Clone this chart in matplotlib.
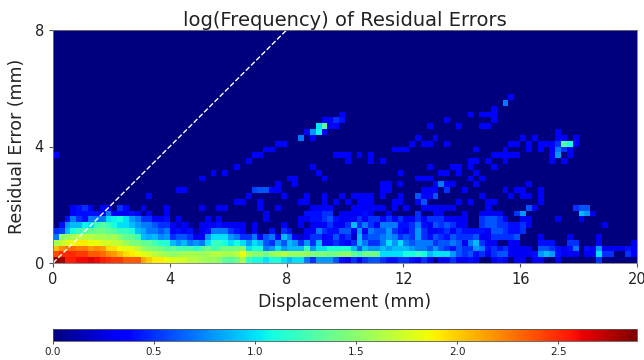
import numpy as np
import matplotlib
matplotlib.use("Agg")
import matplotlib.pyplot as plt

# bins are 0.2 mm wide and 0.2 mm high
x_ticks = [0, 4, 8, 12, 16, 20]
y_ticks = [0, 4, 8]
cbar_ticks = [0.0, 0.5, 1.0, 1.5, 2.0, 2.5]
vmax = 2.89

# lowest rows, one value per displacement bin
row0 = [2.85, 2.8, 2.55, 2.55, 2.6, 2.6, 2.65, 2.6, 2.55, 2.5, 2.45, 2.45, 2.35, 2.35, 2.35, 2.1, 2.0, 1.9, 1.9, 1.85,
        1.8, 1.75, 1.75, 1.65, 1.65, 1.6, 1.55, 1.55, 1.5, 1.35, 1.3, 1.4, 1.6, 1.2, 1.1, 1.1, 1.0, 1.1, 1.1, 1.0,
        0.9, 1.0, 1.0, 0.7, 0.5, 0.8, 0.8, 0.8, 0.6, 0.4, 0.3, 0.5, 0.3, 0.5, 0.6, 0.6, 0.5, 0.4, 0.4, 0.5,
        0.5, 0.4, 0.3, 0.5, 0.3, 0, 0.3, 0.3, 0.5, 0.3, 0.3, 0.4, 0.3, 0, 0, 0.3, 0.4, 0.3, 0, 0.3,
        0.3, 0, 0.3, 0.3, 0, 0, 0.3, 0, 0, 0, 0, 0, 0, 0.5, 0, 0, 0, 0, 0, 0]
row1 = [2.4, 2.5, 2.5, 2.5, 2.45, 2.45, 2.35, 2.35, 2.3, 2.2, 2.15, 2.05, 1.95, 1.9, 1.85, 1.8, 1.75, 1.65, 1.6, 1.55,
        1.5, 1.55, 1.6, 1.6, 1.6, 1.55, 1.6, 1.65, 1.65, 1.6, 1.6, 1.65, 1.85, 1.6, 1.5, 1.5, 1.4, 1.55, 1.6, 1.65,
        1.55, 1.55, 1.55, 1.55, 1.45, 1.45, 1.45, 1.4, 1.45, 1.5, 1.5, 1.35, 1.25, 1.4, 1.4, 1.4, 1.0, 1.0, 1.0, 1.0,
        1.1, 1.1, 1.2, 1.1, 0.9, 1.0, 1.0, 1.0, 0.8, 0.6, 0.5, 0.6, 0.4, 0.5, 0.3, 0.5, 0.6, 0.6, 0.3, 0.3,
        0.3, 0.3, 0.4, 0.8, 0.9, 0.8, 0.4, 0.3, 0.3, 0.3, 0, 0.3, 0.3, 1.0, 0.5, 0.5, 0, 0, 0.5, 0.3]
row2 = [2.05, 2.2, 2.3, 2.3, 2.25, 2.25, 2.15, 2.2, 2.15, 1.95, 1.95, 1.85, 1.8, 1.8, 1.65, 1.55, 1.45, 1.45, 1.4, 1.3,
        1.35, 1.25, 1.25, 1.25, 1.15, 1.3, 1.4, 1.2, 1.3, 1.4, 1.4, 1.4, 1.5, 1.0, 1.1, 1.1, 0.7, 0.8, 1.0, 0.8,
        0.9, 0.9, 0.9, 1.2, 0.8, 1.0, 1.0, 1.1, 1.1, 1.1, 1.1, 0.9, 0.6, 0.9, 0.8, 0.8, 0.9, 0.8, 0.9, 0.9,
        0.9, 0.8, 0.7, 0.7, 0.6, 0.8, 0.6, 0.5, 0.4, 0.6, 0.5, 0.5, 0.8, 0.7, 0.4, 0.5, 0.4, 0.5, 0.3, 0.3,
        0.3, 0.3, 0, 0.6, 0.6, 0.5, 0.4, 0.3, 0.4, 0.7, 0, 0.4, 0.3, 0.8, 0.3, 0.3, 0.3, 0.3, 0.4, 0.3]
row3 = [1.6, 1.7, 1.8, 1.85, 1.9, 1.9, 1.85, 1.85, 1.75, 1.75, 1.7, 1.65, 1.55, 1.45, 1.45, 1.35, 1.35, 1.25, 1.15, 1.15,
        0.9, 0.8, 0.9, 0.7, 0.8, 0.7, 1.0, 1.2, 1.2, 1.1, 1.0, 1.1, 1.0, 0.8, 1.0, 0.9, 0.6, 0.5, 0.8, 0.6,
        0.9, 0.8, 0.5, 0.8, 0.5, 0.9, 0.4, 0.4, 0.5, 0.4, 0.3, 0.5, 0.9, 0.7, 0.5, 0.5, 0.7, 1.0, 0.8, 1.0,
        0.7, 0.6, 0.7, 0.7, 0.7, 0.5, 0.6, 0.6, 0.7, 0.6, 0.3, 0.7, 0.9, 0.5, 0.3, 0.3, 0, 0, 0.3, 0.3,
        0, 0, 0, 0.4, 0.4, 0.4, 0, 0, 0.5, 0.5, 0, 0, 0, 0.3, 0, 0, 0, 0, 0, 0.3]
row4 = [0.7, 1.5, 1.55, 1.6, 1.65, 1.65, 1.65, 1.6, 1.6, 1.55, 1.6, 1.45, 1.35, 1.35, 1.2, 0.9, 0.85, 0.9, 0.75, 0.8,
        0.5, 0.6, 0.6, 0.5, 0.3, 0.3, 0.8, 1.0, 1.0, 1.0, 0.8, 0.7, 0.5, 0.5, 0.7, 0.3, 0.6, 0.7, 0.3, 0.9,
        0.7, 0.3, 0.2, 0.3, 0.5, 0.5, 0.3, 0.4, 0.6, 0.4, 0.5, 0.2, 0.9, 0.5, 0.6, 0.6, 0.7, 0.8, 0.7, 0.5,
        0.6, 0.5, 0.8, 0.5, 0.4, 0.6, 0.5, 0.4, 0.6, 0.5, 0.5, 0.5, 0.6, 0.3, 0.3, 0.5, 0.5, 0.5, 0.5, 0.6,
        0, 0, 0, 0.3, 0, 0, 0, 0, 0.3, 0, 0, 0, 0, 0.3, 0, 0, 0, 0, 0, 0]
row5 = [0.5, 0.55, 0.9, 1.1, 1.2, 1.3, 1.35, 1.4, 1.4, 1.35, 1.3, 1.2, 1.2, 1.1, 0.9, 0.85, 0.7, 0.7, 0.6, 0.7,
        0.3, 0.4, 0.3, 0.4, 0.1, 0.3, 0.4, 0.7, 0.7, 0.7, 0.5, 0.4, 0.3, 0, 0.3, 0, 0, 0.4, 0, 0.5,
        0.4, 0, 0, 0.3, 0.3, 0.7, 0.5, 0.4, 0.4, 0.6, 0.6, 0.3, 0.8, 0.3, 0.7, 0.6, 0.6, 0.8, 0.5, 0.4,
        0.3, 0.5, 0.8, 0.5, 0.3, 0.3, 0.4, 0.5, 0.3, 0.5, 0.4, 0.4, 0.4, 0.4, 0.3, 0.6, 0.6, 0.5, 0.4, 0.4,
        0.5, 0, 0, 0, 0, 0, 0, 0, 0, 0, 0, 0, 0, 0, 0, 0, 0, 0, 0, 0]
row6 = [0, 0.4, 0.8, 0.9, 0.9, 1.05, 1.0, 1.2, 1.3, 1.2, 1.1, 1.0, 1.0, 0.9, 0.8, 0.7, 0.7, 0.6, 0.5, 0.5,
        0.3, 0.2, 0.35, 0.1, 0, 0.3, 0.3, 0.3, 0.4, 0.3, 0.3, 0.3, 0.3, 0, 0.3, 0, 0, 0, 0, 0.3,
        0, 0, 0.3, 0, 0.3, 0.3, 0.3, 0.5, 0.3, 0.3, 0.5, 0.9, 0.5, 0.7, 0.5, 0.3, 0.7, 0.7, 0.7, 0.4,
        0.4, 0.5, 0.7, 0.4, 0.3, 0.6, 0.5, 0.6, 0.5, 0.3, 0.3, 0, 0, 0.5, 0.6, 0.6, 0.5, 0.5, 0.4, 0.4,
        0.5, 0.3, 0, 0, 0, 0, 0, 0, 0, 0, 0, 0, 0, 0, 0.3, 0, 0, 0, 0, 0]
row7 = [0, 0, 0.4, 0.7, 0.5, 0.4, 0.7, 0.7, 0.7, 1.0, 1.05, 1.1, 1.0, 0.8, 0.7, 0.5, 0.5, 0.3, 0.3, 0.4,
        0, 0.3, 0, 0, 0, 0, 0.3, 0, 0.3, 0, 0, 0, 0, 0, 0, 0, 0.3, 0, 0, 0,
        0, 0, 0.3, 0.3, 0.4, 0.4, 0.5, 0.6, 0.4, 0.3, 0.3, 0.3, 0.5, 0.3, 0.5, 0.5, 0.3, 0.5, 0.3, 0.5,
        0.3, 0.3, 0.5, 0.3, 0.5, 0.5, 0.5, 0.3, 0.3, 0.3, 0.3, 0, 0, 0.5, 0.6, 0.6, 0.5, 0.3, 0, 0,
        0.3, 0.3, 0, 0, 0, 0, 0.3, 0, 0, 0, 0.3, 0, 0, 0, 0, 0, 0, 0, 0, 0]
row8 = [0, 0, 0, 0.3, 0.4, 0.4, 0.4, 0.4, 0.3, 0.7, 0.3, 0.3, 0.3, 0.4, 0.3, 0, 0.3, 0, 0, 0.3,
        0, 0, 0, 0, 0, 0, 0, 0, 0, 0, 0, 0, 0, 0, 0, 0, 0.3, 0, 0, 0,
        0, 0, 0, 0.4, 0.4, 0.4, 0.5, 0.5, 0, 0.3, 0.3, 0.3, 0.3, 0.4, 0.3, 0, 0, 0.3, 0, 0,
        0, 0, 0.5, 0, 0, 0.3, 0.3, 0, 0, 0, 0.3, 0, 0, 0.3, 0.3, 0.3, 0.3, 0, 0, 0.5,
        0.8, 0, 0, 0, 0, 0, 0, 0, 0, 0, 0.9, 0.8, 0.3, 0, 0, 0, 0, 0, 0, 0]
row9 = [0, 0, 0, 0.3, 0.4, 0.5, 0.3, 0, 0.3, 0, 0, 0.5, 0.3, 0, 0, 0.3, 0, 0, 0, 0,
        0, 0, 0, 0, 0, 0.3, 0, 0, 0.3, 0.3, 0, 0, 0, 0, 0, 0.3, 0, 0, 0.3, 0,
        0, 0, 0, 0, 0.3, 0.3, 0, 0, 0, 0, 0, 0.3, 0.3, 0.3, 0.3, 0, 0.3, 0, 0.3, 0,
        0, 0, 0, 0, 0.3, 0.3, 0.3, 0.3, 0.3, 0, 0, 0, 0, 0, 0, 0, 0, 0, 0, 0,
        0, 0.6, 0.3, 0, 0, 0, 0, 0, 0, 0.5, 0.6, 0.6, 0, 0, 0, 0, 0, 0, 0, 0]

# higher up only a few bins are filled, these are the faint ones
faint9 = [4, 5, 9, 12, 19, 35, 46, 47, 51, 52, 55, 56, 58, 60, 63, 64, 65, 74]
faint10 = [31, 32, 35, 42, 43, 46, 48, 50, 52, 53, 54, 58, 59, 62, 69, 71, 74, 75, 83]
faint11 = [16, 33, 39, 43, 46, 49, 51, 52, 53, 54, 56, 59, 63, 64, 73, 78, 80, 81, 83]
faint12 = [21, 22, 36, 37, 38, 56, 57, 63, 64, 65, 70, 77, 79, 80, 83]
faint13 = [38, 41, 56, 57, 59, 65, 67, 68, 72, 81]
faint14 = [25, 40, 41, 46, 62, 63, 64, 71, 73]
faint15 = [27, 29, 45, 59, 66, 67, 69, 72]
faint16 = [31, 44, 64, 68, 69, 71, 75]
faint17 = [33, 50, 54, 56, 71, 72, 74, 77, 85, 87]
faint18 = [0, 34, 35, 48, 49, 50, 52, 54, 75, 76, 77, 78, 79, 85, 88]
faint19 = [36, 37, 58, 59, 60, 72, 77, 81, 83, 85, 88]
faint20 = [38, 39, 61, 63, 64, 67, 78, 79, 81, 83, 84, 85, 86, 89]
faint21 = [44, 62, 65, 80, 82, 86, 87, 89]
faint22 = [43, 46, 86]
faint23 = [47, 48, 64, 69, 73, 74]
faint24 = [46, 47, 49, 67, 75]
faint25 = [49, 71, 73, 74, 75]
faint26 = [75]
faint28 = [78]
faint_value = 0.32

# brighter spots in the upper part
spot_bin = [36, 34, 35, 45, 46, 44, 45, 42, 62, 63, 65, 66, 67, 86, 87, 88, 86, 87, 86, 77, 48, 49]
spot_row = [12, 12, 12, 23, 23, 22, 22, 21, 11, 10, 11, 13, 12, 20, 20, 20, 19, 19, 18, 27, 24, 24]
spot_val = [0.6, 0.55, 0.6, 1.0, 1.35, 0.8, 1.05, 0.7, 0.6, 0.6, 0.6, 0.7, 0.5, 0.5, 1.3, 1.1, 0.7, 0.5, 0.8, 0.7, 0.5, 0.4]

grid = np.zeros((40, 100))
low_rows = [row0, row1, row2, row3, row4, row5, row6, row7, row8, row9]
for i, r in enumerate(low_rows):
    grid[i, :len(r)] = r
high_rows = {9: faint9, 10: faint10, 11: faint11, 12: faint12, 13: faint13, 14: faint14, 15: faint15,
             16: faint16, 17: faint17, 18: faint18, 19: faint19, 20: faint20, 21: faint21, 22: faint22,
             23: faint23, 24: faint24, 25: faint25, 26: faint26, 28: faint28}
for i, r in high_rows.items():
    grid[i, r] = np.maximum(grid[i, r], faint_value)
grid[spot_row, spot_bin] = spot_val

fig = plt.figure(figsize=(6.44, 3.6), dpi=100)
ax = fig.add_axes([53 / 644, 1 - 263 / 360, 584 / 644, 233 / 360])
im = ax.imshow(grid, origin="lower", extent=[0, 20, 0, 8], cmap="jet", vmin=0, vmax=vmax,
               aspect="auto", interpolation="nearest")
ax.plot([0, 8], [0, 8], color="white", linestyle="--", linewidth=1)
ax.set_xlim(0, 20)
ax.set_ylim(0, 8)
ax.set_xticks(x_ticks)
ax.set_yticks(y_ticks)
ax.tick_params(labelsize=10.5, length=3, color="#555555", labelcolor="#222222")
ax.set_xlabel("Displacement (mm)", fontsize=12.5, color="#222222", labelpad=4)
ax.set_ylabel("Residual Error (mm)", fontsize=12.5, color="#222222", labelpad=6)
ax.set_title("log(Frequency) of Residual Errors", fontsize=14, color="#222222", pad=1)
for s in ax.spines.values():
    s.set_color("#777777")
    s.set_linewidth(0.6)

cax = fig.add_axes([53 / 644, 1 - 341 / 360, 584 / 644, 12 / 360])
cb = fig.colorbar(im, cax=cax, orientation="horizontal", ticks=cbar_ticks)
cb.ax.tick_params(labelsize=7.5, length=2, pad=2, color="#555555", labelcolor="#222222")
cb.outline.set_linewidth(0.6)
cb.outline.set_edgecolor("#555555")

plt.savefig("out.png", dpi=100)
